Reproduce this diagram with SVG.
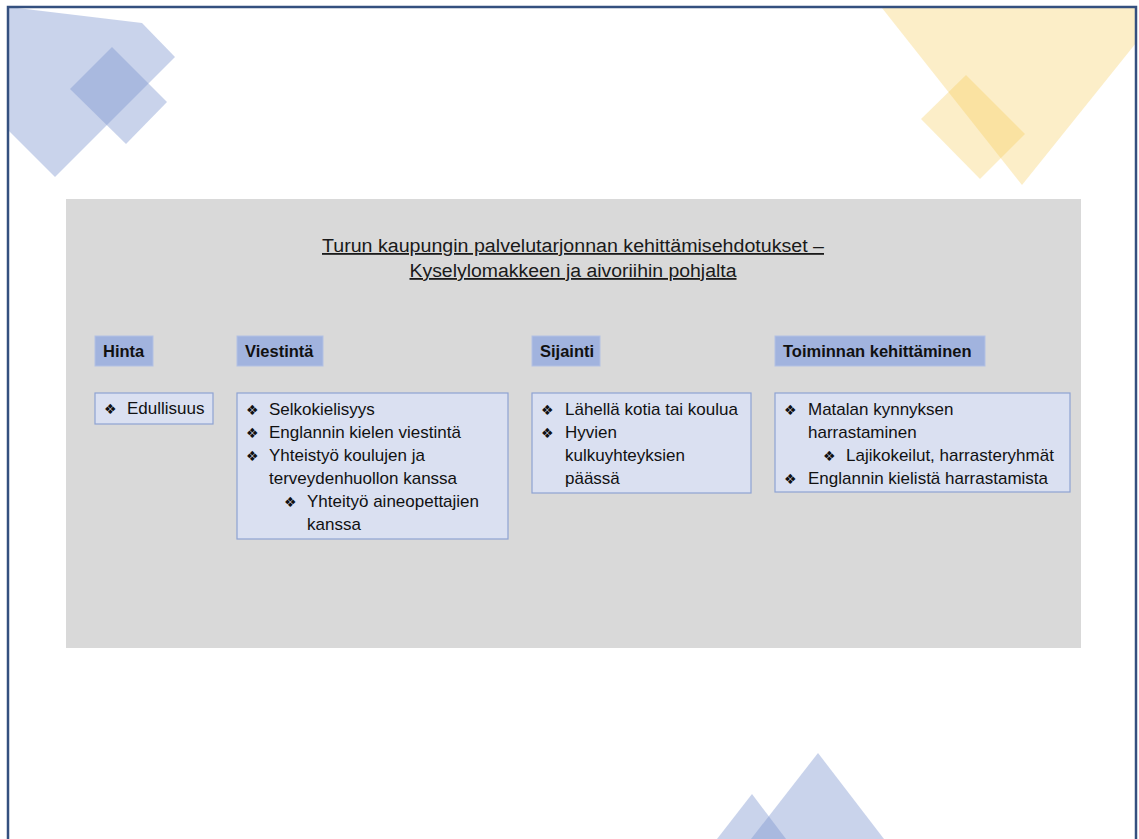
<svg xmlns="http://www.w3.org/2000/svg" width="1139" height="839" viewBox="0 0 1139 839">
<style>
.blue{fill:#7f96cf;fill-opacity:0.42}
.yel{fill:#f5c64a;fill-opacity:0.3}
.hdr{fill:#a1b3de;stroke:#b3c1e4;stroke-width:1}
.box{fill:#dae0f1;stroke:#8ea2d3;stroke-width:1.2}
.ht{font-family:"Liberation Sans",Arial,sans-serif;font-weight:bold;font-size:16.5px;fill:#111}
.bt{font-family:"Liberation Sans",Arial,sans-serif;font-size:17px;fill:#111}
.bl{font-family:"DejaVu Sans",sans-serif;font-size:14px}
.title{font-family:"Liberation Sans",Arial,sans-serif;font-size:18px;fill:#1a1a1a;text-decoration:underline}
</style>
<rect x="0" y="0" width="1139" height="839" fill="#ffffff"/>
<g id="decor">
<polygon class="blue" points="9,7 142,23 175,57 55,177 9,131"/>
<polygon class="blue" points="112,47 167,102 126,144 70,89"/>
<polygon class="yel" points="882,8 1136,8 1136,43 1022,185"/>
<polygon class="yel" points="966,75 1025,134 980,179 921,119"/>
<polygon class="blue" points="818,753 884,839 751,839"/>
<polygon class="blue" points="752,794 786,839 717,839"/>
</g>
<rect id="panel" x="66" y="199" width="1015" height="449" fill="#d9d9d9"/>
<g id="title">
<text class="title" x="573" y="252" text-anchor="middle" textLength="502" lengthAdjust="spacingAndGlyphs">Turun kaupungin palvelutarjonnan kehittämisehdotukset –</text>
<text class="title" x="573" y="277" text-anchor="middle" textLength="327" lengthAdjust="spacingAndGlyphs">Kyselylomakkeen ja aivoriihin pohjalta</text>
</g>
<g id="hinta">
<rect class="hdr" x="95" y="336" width="58" height="30"/>
<text class="ht" x="103" y="357">Hinta</text>
<rect class="box" x="95" y="393" width="118" height="31"/>
<text class="bt" x="104" y="414"><tspan class="bl">❖</tspan><tspan x="127">Edullisuus</tspan></text>
</g>
<g id="viestinta">
<rect class="hdr" x="237" y="336" width="86" height="30"/>
<text class="ht" x="245" y="357">Viestintä</text>
<rect class="box" x="237" y="393" width="271" height="146"/>
<text class="bt" x="246" y="415"><tspan class="bl">❖</tspan><tspan x="269">Selkokielisyys</tspan></text>
<text class="bt" x="246" y="438"><tspan class="bl">❖</tspan><tspan x="269">Englannin kielen viestintä</tspan></text>
<text class="bt" x="246" y="461"><tspan class="bl">❖</tspan><tspan x="269">Yhteistyö koulujen ja</tspan></text>
<text class="bt" x="269" y="484">terveydenhuollon kanssa</text>
<text class="bt" x="284" y="507"><tspan class="bl">❖</tspan><tspan x="307">Yhteityö aineopettajien</tspan></text>
<text class="bt" x="307" y="530">kanssa</text>
</g>
<g id="sijainti">
<rect class="hdr" x="532" y="336" width="68" height="30"/>
<text class="ht" x="540" y="357">Sijainti</text>
<rect class="box" x="532" y="393" width="219" height="100"/>
<text class="bt" x="541" y="415"><tspan class="bl">❖</tspan><tspan x="565">Lähellä kotia tai koulua</tspan></text>
<text class="bt" x="541" y="438"><tspan class="bl">❖</tspan><tspan x="565">Hyvien</tspan></text>
<text class="bt" x="565" y="461">kulkuyhteyksien</text>
<text class="bt" x="565" y="484">päässä</text>
</g>
<g id="toiminta">
<rect class="hdr" x="775" y="336" width="210" height="30"/>
<text class="ht" x="783" y="357">Toiminnan kehittäminen</text>
<rect class="box" x="775" y="393" width="295" height="99"/>
<text class="bt" x="784" y="415"><tspan class="bl">❖</tspan><tspan x="808">Matalan kynnyksen</tspan></text>
<text class="bt" x="808" y="438">harrastaminen</text>
<text class="bt" x="823" y="461"><tspan class="bl">❖</tspan><tspan x="846">Lajikokeilut, harrasteryhmät</tspan></text>
<text class="bt" x="784" y="484"><tspan class="bl">❖</tspan><tspan x="808">Englannin kielistä harrastamista</tspan></text>
</g>
<g id="connectors"></g>
<rect id="frame" x="8" y="7" width="1128" height="850" fill="none" stroke="#34507f" stroke-width="2.5"/>
</svg>
